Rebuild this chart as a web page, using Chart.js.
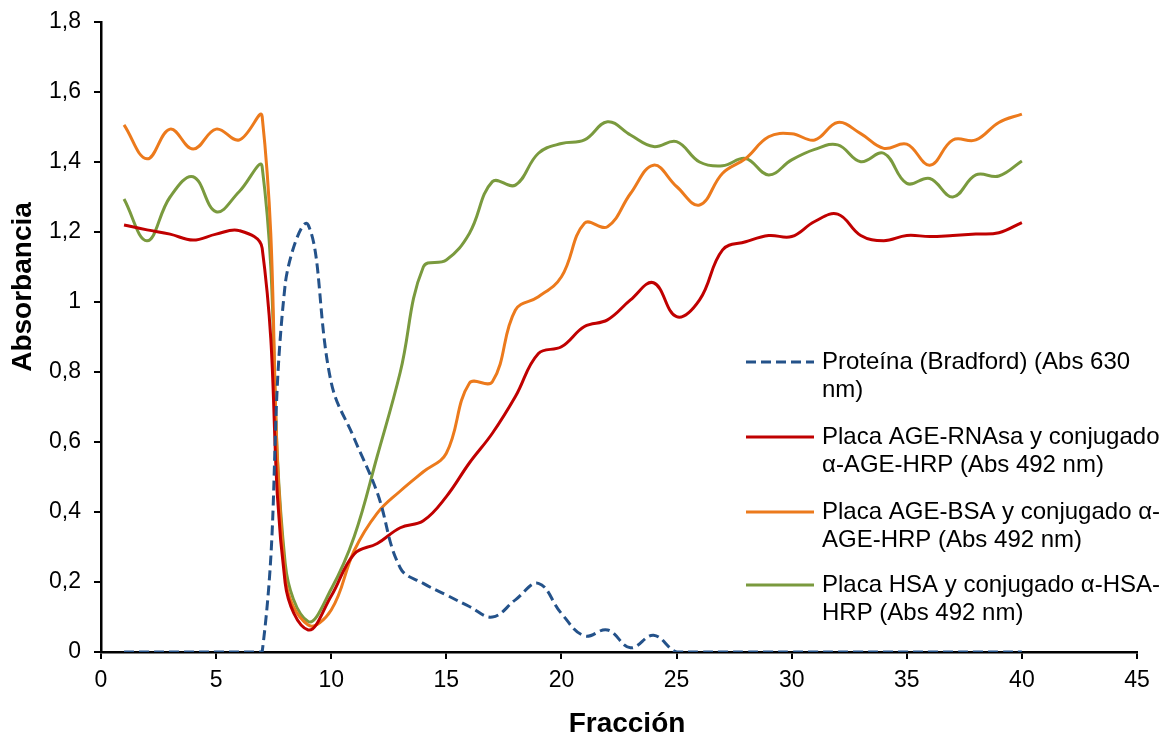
<!DOCTYPE html>
<html>
<head>
<meta charset="utf-8">
<script src="https://cdn.jsdelivr.net/npm/chart.js@4"></script>
<style>
  html, body { margin: 0; padding: 0; background: #fff; }
  #wrap { width: 1162px; height: 738px; position: relative; }
</style>
</head>
<body>
<div id="wrap"><canvas id="elutionChart" width="1162" height="738"></canvas></div>
<script>
// fracciones 1..40 de la columna
const fractions = [1,2,3,4,5,6,7,8,9,10,11,12,13,14,15,16,17,18,19,20,
                   21,22,23,24,25,26,27,28,29,30,31,32,33,34,35,36,37,38,39,40];

const proteinBradford = [0,0,0,0,0,0,0,1.05,1.22,0.77,0.61,0.455,0.24,0.196,0.163,0.13,0.10,0.149,0.196,0.11,
                         0.046,0.063,0.012,0.048,0,0,0,0,0,0,0,0,0,0,0,0,0,0,0,0];
const ageRNAsa = [1.22,1.206,1.194,1.177,1.194,1.204,1.154,0.197,0.063,0.16,0.28,0.31,0.355,0.375,0.444,0.54,0.625,0.73,0.853,0.872,
                  0.93,0.949,1.006,1.055,0.958,1.006,1.149,1.172,1.19,1.187,1.23,1.251,1.19,1.175,1.19,1.187,1.19,1.194,1.198,1.227];
const ageBSA = [1.506,1.409,1.494,1.437,1.494,1.463,1.53,0.215,0.077,0.12,0.29,0.397,0.46,0.515,0.568,0.768,0.772,0.977,1.015,1.072,
                1.225,1.215,1.31,1.391,1.33,1.277,1.368,1.41,1.472,1.481,1.463,1.513,1.481,1.439,1.451,1.391,1.463,1.463,1.513,1.537];
const hsa = [1.294,1.175,1.30,1.358,1.258,1.315,1.386,0.254,0.087,0.18,0.33,0.56,0.80,1.10,1.12,1.196,1.344,1.334,1.425,1.453,
             1.463,1.515,1.477,1.444,1.458,1.40,1.389,1.41,1.363,1.406,1.436,1.449,1.401,1.425,1.339,1.353,1.30,1.363,1.36,1.403];

const seriesNames = [
  ['Proteína (Bradford) (Abs 630', 'nm)'],
  ['Placa AGE-RNAsa y conjugado', 'α-AGE-HRP (Abs 492 nm)'],
  ['Placa AGE-BSA y conjugado α-', 'AGE-HRP (Abs 492 nm)'],
  ['Placa HSA y conjugado α-HSA-', 'HRP (Abs 492 nm)']
];
const xTitle = 'Fracción';
const yTitle = 'Absorbancia';

const BLUE = '#24528a', RED = '#c00000', ORANGE = '#ec7a1c', GREEN = '#7a9a3e';
const FONT = 'Arial, "Liberation Sans", sans-serif';

const toPoints = vals => vals.map((v, i) => ({ x: fractions[i], y: v }));

const lineStyle = (color, dash) => ({
  borderColor: color,
  backgroundColor: color,
  borderWidth: 3,
  borderDash: dash || [],
  pointRadius: 0,
  tension: 0.4,
  fill: false
});

// leyenda y títulos de ejes dibujados a mano dentro del área
const annotations = {
  id: 'annotations',
  afterDraw(chart) {
    const ctx = chart.ctx;
    ctx.save();
    ctx.fillStyle = '#000';
    ctx.font = 'bold 28px ' + FONT;
    ctx.textAlign = 'center';
    ctx.textBaseline = 'middle';
    ctx.fillText(xTitle, 627, 724);
    ctx.save();
    ctx.translate(23, 287);
    ctx.rotate(-Math.PI / 2);
    ctx.fillText(yTitle, 0, 0);
    ctx.restore();

    const colors = [BLUE, RED, ORANGE, GREEN];
    const tops = [362, 437, 512, 585];
    ctx.font = '24px ' + FONT;
    ctx.textAlign = 'left';
    chart.data.datasets.forEach((ds, i) => {
      const y = tops[i];
      ctx.beginPath();
      ctx.strokeStyle = colors[i];
      ctx.lineWidth = 3;
      ctx.setLineDash(ds.borderDash || []);
      ctx.moveTo(746, y);
      ctx.lineTo(814, y);
      ctx.stroke();
      ctx.setLineDash([]);
      ctx.fillText(seriesNames[i][0], 822, y);
      ctx.fillText(seriesNames[i][1], 822, y + 28.5);
    });
    ctx.restore();
  }
};

const fmt = v => String(Math.round(v * 10) / 10).replace('.', ',');

new Chart(document.getElementById('elutionChart'), {
  type: 'line',
  data: {
    datasets: [
      { label: seriesNames[0].join(' '), data: toPoints(proteinBradford), ...lineStyle(BLUE, [10, 5]) },
      { label: seriesNames[1].join(' '), data: toPoints(ageRNAsa), ...lineStyle(RED) },
      { label: seriesNames[2].join(' '), data: toPoints(ageBSA), ...lineStyle(ORANGE) },
      { label: seriesNames[3].join(' '), data: toPoints(hsa), ...lineStyle(GREEN) }
    ]
  },
  options: {
    responsive: false,
    animation: false,
    events: [],
    layout: { padding: { left: 0, top: 22, right: 25, bottom: 0 } },
    plugins: { legend: { display: false }, tooltip: { enabled: false } },
    scales: {
      x: {
        type: 'linear',
        min: 0, max: 45,
        afterFit: s => { s.height = 86; s.paddingLeft = 0; s.paddingRight = 0; },
        ticks: { stepSize: 5, color: '#000', font: { family: FONT, size: 23 }, padding: 8, maxRotation: 0 },
        grid: { drawOnChartArea: false, drawTicks: true, tickLength: 7, color: '#000', lineWidth: 2 },
        border: { color: '#000', width: 2.5 }
      },
      y: {
        min: 0, max: 1.8,
        afterFit: s => { s.width = 101; s.paddingTop = 0; s.paddingBottom = 0; },
        ticks: { stepSize: 0.2, color: '#000', font: { family: FONT, size: 23 }, padding: 13, callback: v => fmt(v) },
        grid: { drawOnChartArea: false, drawTicks: true, tickLength: 7, color: '#000', lineWidth: 2 },
        border: { color: '#000', width: 2.5 }
      }
    }
  },
  plugins: [annotations]
});
</script>
</body>
</html>
